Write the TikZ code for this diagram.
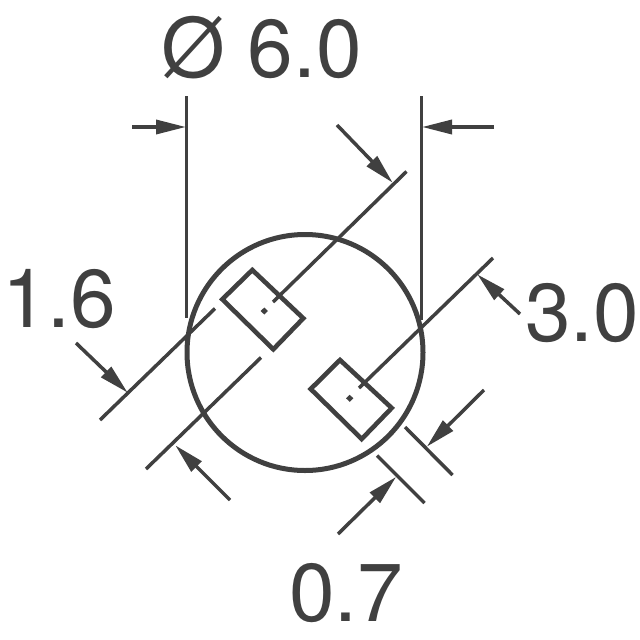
\documentclass[tikz,border=0pt]{standalone}
\usepackage{fontspec}
\setmainfont{TeX Gyre Heros}
\usetikzlibrary{arrows.meta}
\definecolor{ink}{HTML}{404040}
\tikzset{
 x=1pt,y=-1pt,
 ext/.style={draw=ink,line width=3.5pt},
 dimarrow/.style={draw=ink,line width=3.5pt,-{Triangle[length=30pt,width=14pt,inset=0pt]},shorten >=-1pt},
 pad/.style={draw=ink,line width=4.6pt,miter limit=10},
 ring/.style={draw=ink,line width=5pt},
 centre/.style={fill=ink,draw=none},
 dimtext/.style={text=ink,font=\fontsize{82}{82}\selectfont,inner sep=0pt,anchor=base west},
}
\begin{document}
\begin{tikzpicture}
\useasboundingbox (0,0) rectangle (640,640);
% free ends
\coordinate (ltop) at (186.5,96); \coordinate (lbot) at (186.5,318);
\coordinate (rtop) at (421.5,96); \coordinate (rbot) at (421.5,320);
\coordinate (aout) at (406.5,171.5); \coordinate (aend) at (273,302);
\coordinate (bout) at (493,258); \coordinate (bend) at (359,388);
\coordinate (cout) at (100,420); \coordinate (cend) at (215,308.5);
\coordinate (dout) at (146,469); \coordinate (dend) at (261,357.5);
\coordinate (eout) at (452.5,475); \coordinate (eend) at (405,427);
\coordinate (fout) at (424.5,503); \coordinate (fend) at (377,455.5);
% body
\node[ring,circle,minimum size=236pt,inner sep=0pt] (body) at (305,352.5) {};
\draw[pad] (252.3,270) -- (303.3,318.3) -- (273.3,349.3) -- (222.3,299.3) -- cycle;
\draw[pad] (340,360) -- (391.7,408) -- (361.7,439) -- (310.7,389) -- cycle;
\fill[centre] (264.3,307.5) -- (268,311) -- (264.3,314.5) -- (260.6,311) -- cycle;
\fill[centre] (349.7,394.8) -- (353.4,398.3) -- (349.7,401.8) -- (346,398.3) -- cycle;
% extension lines
\draw[ext] (ltop) -- (lbot);
\draw[ext] (rtop) -- (rbot);
\draw[ext] (aout) -- (aend);
\draw[ext] (bout) -- (bend);
\draw[ext] (cout) -- (cend);
\draw[ext] (dout) -- (dend);
\draw[ext] (eout) -- (eend);
\draw[ext] (fout) -- (fend);
% dimension arrows
\coordinate (a1s) at (132,127); \coordinate (a1t) at (185,127);
\coordinate (a2s) at (494,127); \coordinate (a2t) at (423,127);
\coordinate (a3s) at (337,125); \coordinate (a3t) at (392,182);
\coordinate (a4s) at (520,314); \coordinate (a4t) at (478,275);
\coordinate (a5s) at (76,343); \coordinate (a5t) at (127,392);
\coordinate (a6s) at (230,500); \coordinate (a6t) at (176,446);
\coordinate (a7s) at (484,390); \coordinate (a7t) at (427.5,446);
\coordinate (a8s) at (338,534); \coordinate (a8t) at (395.5,477.5);
\foreach \n in {1,...,8} \draw[dimarrow] (a\n s) -- (a\n t);
% labels
\node[dimtext] (dia) at (161,77) {Ø 6.0};
\node[dimtext] (d16) at (2,327) {1.6};
\node[dimtext] (d30) at (525,341) {3.0};
\node[dimtext] (d07) at (289,621) {0.7};
\end{tikzpicture}
\end{document}
